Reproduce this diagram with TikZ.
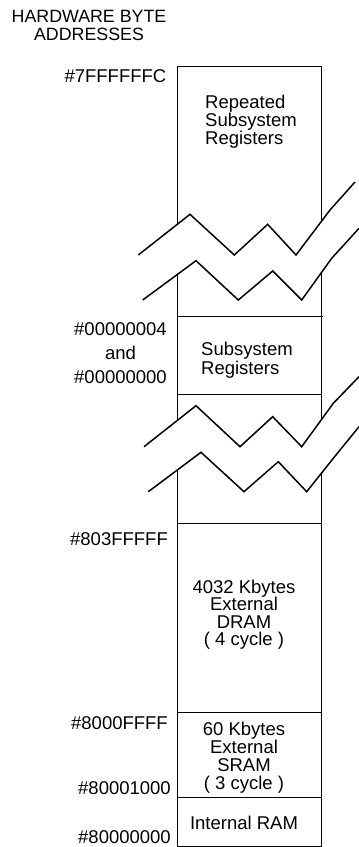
\documentclass[tikz,border=0pt]{standalone}
\usepackage{fontspec}
\setmainfont{Liberation Sans}
\begin{document}
\begin{tikzpicture}[x=1pt,y=-1pt,
  boxline/.style={line width=0.9pt},
  zig/.style={line width=1.5pt, line join=miter},
  lbl/.style={inner sep=0pt, font=\fontsize{18.5}{18}\selectfont}]
\useasboundingbox (0,0) rectangle (359,847);

% heading (base anchor = baseline of last line)
\node[lbl, anchor=base, align=center, font=\fontsize{17.8}{17.3}\selectfont] (head) at (89,40) {HARDWARE BYTE\\ADDRESSES};

% address labels
\node[lbl, anchor=base east] (a1) at (166.5,82) {\#7FFFFFFC};
\node[lbl, anchor=base east, align=center, font=\fontsize{18.5}{24}\selectfont] (a2) at (167,383) {\#00000004\\and\\\#00000000};
\node[lbl, anchor=base east] (a3) at (168,545) {\#803FFFFF};
\node[lbl, anchor=base east] (a4) at (168,729) {\#8000FFFF};
\node[lbl, anchor=base east] (a5) at (171,794) {\#80001000};
\node[lbl, anchor=base east] (a6) at (171,843) {\#80000000};

% box outline pieces
\draw[boxline] (177.3,225.3) -- (177.3,66) -- (321.7,66) -- (321.7,221.5);
\draw[boxline] (177.3,273.2) -- (177.3,421);
\draw[boxline] (321.7,272.8) -- (321.7,419.7);
\draw[boxline] (177.3,469.5) -- (177.3,846) -- (321.7,846) -- (321.7,472.5);
% dividers
\draw[boxline] (177.3,316.7) -- (322.5,316.7);
\draw[boxline] (177.3,394.3) -- (321.7,394.3);
\draw[boxline] (177.3,523) -- (321.7,523);
\draw[boxline] (177.3,712) -- (321.7,712);
\draw[boxline] (177.3,797) -- (321.7,797);

% break marks
\draw[zig] (138.3,255) -- (190,214.3) -- (234.3,255) -- (267.7,224.3) -- (296,255) -- (330,210) -- (355,182);
\draw[zig] (142.7,300) -- (196,260.7) -- (238.3,300) -- (272.7,271) -- (301.7,300) -- (331.7,258.3) -- (359,228.3);
\draw[zig] (144,446.7) -- (196,405.7) -- (240,446.7) -- (272.7,416.7) -- (301.7,446.7) -- (333.3,403.3) -- (359,376.7);
\draw[zig] (148.3,491.7) -- (201,452.3) -- (244,491.7) -- (278.3,461.7) -- (306.7,491.7) -- (333.3,458.3) -- (359,426.7);

% box texts
\node[lbl, anchor=base west, align=left] (t1) at (205,144.7) {Repeated\\Subsystem\\Registers};
\node[lbl, anchor=base west, align=left, font=\fontsize{18.5}{18.7}\selectfont] (t2) at (201,374.2) {Subsystem\\Registers};
\node[lbl, anchor=base, align=center, font=\fontsize{18.5}{17.6}\selectfont] (t3) at (244,645.8) {4032 Kbytes\\External\\DRAM\\( 4 cycle )};
\node[lbl, anchor=base, align=center, font=\fontsize{18.5}{18}\selectfont] (t4) at (244,789) {60 Kbytes\\External\\SRAM\\( 3 cycle )};
\node[lbl, anchor=base] (t5) at (244,829) {Internal RAM};
\end{tikzpicture}
\end{document}
